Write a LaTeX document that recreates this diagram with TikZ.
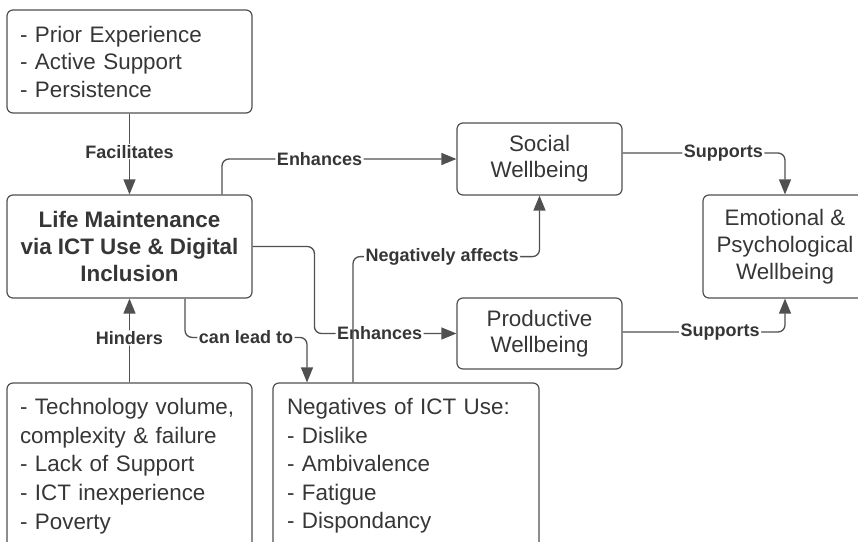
\documentclass[tikz,border=0pt]{standalone}
\usepackage{fontspec}
\setmainfont{Liberation Sans}
\usetikzlibrary{arrows.meta}
\definecolor{ink}{HTML}{363636}
\definecolor{edge}{HTML}{505050}

\begin{document}
\begin{tikzpicture}[x=1pt,y=-1pt,
  box/.style={draw=edge, line width=1.2pt, rounded corners=6pt, text=ink,
    inner sep=0pt, font=\fontsize{22.4}{27.5}\selectfont},
  listbox/.style={box, align=left},
  midbox/.style={box, align=center},
  conn/.style={draw=edge, line width=1.3pt, rounded corners=7pt,
    -{Triangle[length=15pt,width=12pt]}},
  lbl/.style={fill=white, text=ink, inner xsep=1.5pt, inner ysep=1pt,
    font=\fontsize{18}{20}\selectfont\bfseries}]

\useasboundingbox (0,0) rectangle (858,541);
\clip (0,0) rectangle (858,541);

% boxes
\node[listbox, minimum width=245pt, minimum height=103pt, text width=219pt]
  (A) at (129.5,61.5) {- Prior Experience\\- Active Support\\- Persistence};
\node[midbox, minimum width=245pt, minimum height=103pt,
  font=\fontsize{22.4}{27}\selectfont\bfseries]
  (L) at (129.5,246.5) {Life Maintenance\\via ICT Use \& Digital\\Inclusion};
\node[listbox, minimum width=245pt, minimum height=166pt, text width=219pt,
  font=\fontsize{22.4}{28.6}\selectfont]
  (H) at (129.5,466) {- Technology volume,\\complexity \& failure\\- Lack of Support\\- ICT inexperience\\- Poverty};
\node[listbox, minimum width=266pt, minimum height=166pt, text width=238pt,
  font=\fontsize{22.4}{28.5}\selectfont]
  (N) at (406,466) {Negatives of ICT Use:\\- Dislike\\- Ambivalence\\- Fatigue\\- Dispondancy};
\node[midbox, minimum width=165pt, minimum height=72pt,
  font=\fontsize{22.4}{26}\selectfont]
  (S) at (539.5,159) {Social\\Wellbeing};
\node[midbox, minimum width=165pt, minimum height=71pt,
  font=\fontsize{22.4}{26}\selectfont]
  (P) at (539.5,333.5) {Productive\\Wellbeing};
\node[midbox, minimum width=164pt, minimum height=103pt,
  font=\fontsize{22.4}{27}\selectfont]
  (E) at (785,246.5) {Emotional \&\\Psychological\\Wellbeing};

% connectors
\draw[conn] (A.south) -- node[lbl, pos=0.47]{Facilitates} (L.north);
\draw[conn] (H.north) -- node[lbl, pos=0.53]{Hinders} (L.south);
\draw[conn] ([xshift=92.5pt]L.north) |- node[lbl, pos=0.708]{Enhances} (S.west);
\draw[conn] (L.east) -| ([xshift=-142pt]P.west) -- node[lbl, pos=0.46]{Enhances} (P.west);
\draw[conn] ([xshift=55.5pt]L.south) |- node[lbl, pos=0.75]{can lead to}
  ([xshift=-99pt,yshift=45pt]N.north) -- ([xshift=-99pt]N.north);
\draw[conn] ([xshift=-53pt]N.north) |- node[lbl, pos=0.739]{Negatively affects}
  ([yshift=-61pt]S.south) -- (S.south);
\draw[conn] ([yshift=6pt]S.east) -| node[lbl, pos=0.31]{Supports} (E.north);
\draw[conn] ([yshift=1.5pt]P.east) -| node[lbl, pos=0.30]{Supports} (E.south);

\end{tikzpicture}
\end{document}
